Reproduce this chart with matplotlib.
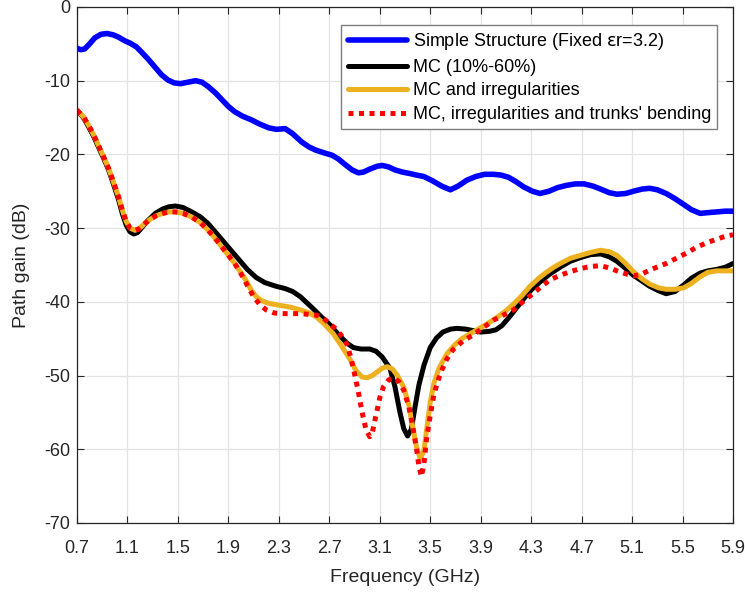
import matplotlib
matplotlib.use("Agg")
import matplotlib.pyplot as plt

# path gain vs frequency for the four trunk models
FREQ_SIMPLE = [0.70, 0.73, 0.76, 0.80, 0.84, 0.89, 0.94, 0.99, 1.03, 1.08, 1.12, 1.17, 1.21, 1.26,
               1.32, 1.37, 1.42, 1.47, 1.52, 1.58, 1.64, 1.69, 1.74, 1.80, 1.85, 1.90, 1.95, 2.01,
               2.08, 2.15, 2.22, 2.28, 2.35, 2.41, 2.48, 2.54, 2.59, 2.66, 2.72, 2.77, 2.82, 2.88,
               2.93, 2.97, 3.02, 3.08, 3.12, 3.17, 3.22, 3.28, 3.34, 3.39, 3.45, 3.52, 3.59, 3.66,
               3.72, 3.79, 3.86, 3.93, 4.00, 4.06, 4.12, 4.18, 4.24, 4.31, 4.37, 4.44, 4.51, 4.58,
               4.65, 4.72, 4.79, 4.85, 4.92, 4.98, 5.05, 5.11, 5.18, 5.24, 5.30, 5.37, 5.44, 5.51,
               5.57, 5.64, 5.70, 5.77, 5.84, 5.90]
GAIN_SIMPLE = [-5.6, -5.8, -5.7, -5.0, -4.2, -3.7, -3.6, -3.8, -4.1, -4.6, -4.9, -5.4, -6.1, -7.0,
               -8.2, -9.2, -9.9, -10.3, -10.4, -10.2, -10.0, -10.2, -10.8, -11.7, -12.6, -13.5, -14.2, -14.8,
               -15.3, -15.9, -16.4, -16.6, -16.5, -17.2, -18.3, -19.0, -19.4, -19.8, -20.1, -20.6, -21.3, -22.1,
               -22.5, -22.4, -22.0, -21.6, -21.5, -21.7, -22.1, -22.4, -22.6, -22.8, -23.0, -23.6, -24.3, -24.8,
               -24.3, -23.5, -23.0, -22.7, -22.7, -22.8, -23.1, -23.7, -24.4, -25.0, -25.3, -25.0, -24.5, -24.2,
               -24.0, -24.0, -24.3, -24.7, -25.2, -25.4, -25.3, -25.0, -24.7, -24.6, -24.8, -25.3, -26.0, -26.8,
               -27.5, -28.0, -27.9, -27.8, -27.7, -27.7]

FREQ_MC = [0.70, 0.75, 0.79, 0.83, 0.87, 0.91, 0.95, 0.99, 1.03, 1.06, 1.09, 1.12, 1.15, 1.18,
           1.21, 1.26, 1.32, 1.38, 1.43, 1.48, 1.54, 1.61, 1.68, 1.74, 1.80, 1.85, 1.90, 1.95,
           1.99, 2.05, 2.12, 2.19, 2.28, 2.35, 2.41, 2.47, 2.52, 2.57, 2.64, 2.71, 2.77, 2.84,
           2.89, 2.95, 3.02, 3.07, 3.12, 3.18, 3.22, 3.26, 3.29, 3.32, 3.35, 3.38, 3.41, 3.45,
           3.50, 3.55, 3.60, 3.66, 3.71, 3.78, 3.84, 3.90, 3.97, 4.02, 4.07, 4.13, 4.19, 4.24,
           4.30, 4.37, 4.45, 4.53, 4.61, 4.69, 4.77, 4.85, 4.92, 4.98, 5.05, 5.11, 5.18, 5.24,
           5.31, 5.37, 5.44, 5.51, 5.57, 5.64, 5.70, 5.77, 5.84, 5.90]
GAIN_MC = [-14.0, -15.0, -16.2, -17.5, -19.0, -20.5, -22.1, -24.1, -26.2, -28.1, -29.6, -30.5, -30.8, -30.6,
           -30.0, -29.0, -28.0, -27.4, -27.1, -27.0, -27.2, -27.8, -28.5, -29.4, -30.6, -31.6, -32.6, -33.6,
           -34.4, -35.6, -36.7, -37.4, -37.9, -38.2, -38.6, -39.3, -40.1, -40.9, -42.1, -43.2, -44.4, -45.6,
           -46.2, -46.4, -46.4, -46.7, -47.5, -49.0, -51.5, -55.0, -57.2, -58.2, -57.3, -54.2, -51.3, -48.6,
           -46.2, -44.9, -44.1, -43.7, -43.6, -43.7, -43.9, -44.1, -44.0, -43.8, -43.2, -42.0, -40.7, -39.6,
           -38.4, -37.3, -36.2, -35.3, -34.5, -34.0, -33.6, -33.5, -33.9, -34.5, -35.5, -36.4, -37.2, -37.9,
           -38.5, -38.9, -38.6, -37.7, -36.8, -36.1, -35.8, -35.6, -35.3, -34.8]

FREQ_IRR = [0.70, 0.75, 0.79, 0.83, 0.87, 0.91, 0.95, 0.99, 1.03, 1.06, 1.09, 1.12, 1.16, 1.19,
            1.23, 1.28, 1.33, 1.38, 1.43, 1.48, 1.54, 1.61, 1.68, 1.74, 1.80, 1.85, 1.90, 1.95,
            1.99, 2.04, 2.08, 2.12, 2.17, 2.22, 2.28, 2.35, 2.41, 2.47, 2.54, 2.60, 2.66, 2.73,
            2.79, 2.86, 2.91, 2.96, 3.00, 3.04, 3.08, 3.12, 3.16, 3.20, 3.24, 3.29, 3.33, 3.36,
            3.39, 3.42, 3.45, 3.47, 3.50, 3.53, 3.57, 3.63, 3.69, 3.75, 3.81, 3.87, 3.95, 4.03,
            4.10, 4.16, 4.23, 4.29, 4.36, 4.42, 4.48, 4.53, 4.61, 4.69, 4.77, 4.85, 4.92, 4.98,
            5.05, 5.11, 5.18, 5.24, 5.31, 5.37, 5.44, 5.51, 5.57, 5.64, 5.70, 5.77, 5.84, 5.90]
GAIN_IRR = [-14.0, -14.9, -16.0, -17.3, -18.8, -20.3, -21.9, -23.8, -25.8, -27.6, -29.1, -30.0, -30.3, -30.1,
            -29.5, -28.8, -28.3, -28.0, -27.8, -27.8, -28.0, -28.5, -29.3, -30.3, -31.5, -32.6, -33.7, -34.8,
            -35.8, -37.1, -38.4, -39.3, -39.9, -40.2, -40.4, -40.6, -40.8, -41.1, -41.5, -42.1, -43.0, -44.3,
            -45.8, -47.7, -49.3, -50.2, -50.3, -50.0, -49.5, -49.0, -48.8, -49.1, -50.0, -51.6, -54.0, -56.9,
            -59.6, -61.3, -60.2, -57.5, -53.6, -51.0, -49.0, -47.1, -45.9, -45.0, -44.4, -43.8, -43.0, -42.1,
            -41.2, -40.3, -39.1, -37.9, -36.8, -36.0, -35.3, -34.8, -34.1, -33.7, -33.3, -33.0, -33.2, -33.7,
            -34.8, -35.9, -36.9, -37.6, -38.1, -38.3, -38.3, -38.1, -37.5, -36.6, -36.0, -35.8, -35.8, -35.8]

FREQ_BEND = [0.70, 0.75, 0.79, 0.83, 0.87, 0.91, 0.95, 0.99, 1.03, 1.06, 1.09, 1.12, 1.16, 1.19,
             1.23, 1.28, 1.33, 1.38, 1.43, 1.48, 1.54, 1.61, 1.68, 1.74, 1.80, 1.85, 1.90, 1.95,
             1.99, 2.02, 2.06, 2.10, 2.15, 2.20, 2.26, 2.31, 2.39, 2.47, 2.54, 2.60, 2.65, 2.70,
             2.76, 2.81, 2.84, 2.87, 2.90, 2.93, 2.96, 2.99, 3.02, 3.04, 3.07, 3.10, 3.13, 3.17,
             3.21, 3.25, 3.29, 3.33, 3.36, 3.39, 3.41, 3.43, 3.45, 3.47, 3.50, 3.53, 3.58, 3.63,
             3.68, 3.76, 3.84, 3.92, 4.00, 4.08, 4.16, 4.24, 4.32, 4.39, 4.45, 4.53, 4.61, 4.69,
             4.77, 4.85, 4.92, 4.98, 5.05, 5.11, 5.18, 5.24, 5.31, 5.37, 5.45, 5.53, 5.61, 5.69,
             5.77, 5.84, 5.90]
GAIN_BEND = [-14.0, -14.9, -16.0, -17.3, -18.8, -20.3, -21.9, -23.8, -25.8, -27.6, -29.1, -30.0, -30.3, -30.1,
             -29.5, -28.8, -28.3, -28.0, -27.8, -27.8, -28.0, -28.5, -29.3, -30.3, -31.5, -32.6, -33.7, -34.8,
             -35.9, -36.8, -38.1, -39.3, -40.4, -41.1, -41.5, -41.6, -41.6, -41.6, -41.7, -41.8, -42.2, -42.9,
             -43.8, -44.9, -45.8, -47.5, -49.8, -52.2, -55.0, -57.3, -58.3, -57.8, -55.4, -53.0, -51.5, -50.6,
             -50.3, -50.8, -52.0, -54.2, -56.8, -59.8, -62.3, -63.7, -62.0, -58.7, -55.4, -52.5, -49.7, -47.8,
             -46.5, -45.3, -44.5, -43.5, -42.5, -41.8, -41.1, -39.9, -38.8, -37.8, -37.0, -36.4, -35.9, -35.5,
             -35.2, -35.1, -35.4, -35.8, -36.2, -36.5, -36.2, -35.7, -35.2, -34.8, -34.1, -33.4, -32.6, -32.0,
             -31.5, -31.1, -30.9]

LABELS = ["Simple Structure (Fixed $\\mathrm{\\epsilon}$r=3.2)", "MC (10%-60%)",
          "MC and irregularities", "MC, irregularities and trunks' bending"]
XTICKS = [0.7, 1.1, 1.5, 1.9, 2.3, 2.7, 3.1, 3.5, 3.9, 4.3, 4.7, 5.1, 5.5, 5.9]
YTICKS = [0, -10, -20, -30, -40, -50, -60, -70]

plt.rcParams["font.family"] = ["Liberation Sans", "DejaVu Sans"]
plt.rcParams["mathtext.fontset"] = "dejavusans"
AX_COLOR = "#262626"

fig = plt.figure(figsize=(7.45, 5.92), dpi=100)
ax = fig.add_axes([0.1034, 0.1166, 0.8805, 0.8716])

ax.plot(FREQ_SIMPLE, GAIN_SIMPLE, color="#0000ff", lw=4.0, solid_joinstyle="round",
        solid_capstyle="round", label=LABELS[0])
ax.plot(FREQ_MC, GAIN_MC, color="black", lw=3.6, solid_joinstyle="round",
        solid_capstyle="round", label=LABELS[1])
ax.plot(FREQ_IRR, GAIN_IRR, color="#edb120", lw=3.6, solid_joinstyle="round",
        solid_capstyle="round", label=LABELS[2])
ax.plot(FREQ_BEND, GAIN_BEND, color="#ff0000", lw=3.6, ls=(0, (1, 1.1)),
        dash_capstyle="butt", label=LABELS[3])

ax.set_xlim(0.7, 5.9)
ax.set_ylim(-70, 0)
ax.set_xticks(XTICKS)
ax.set_xticklabels([f"{t:.1f}" for t in XTICKS])
ax.set_yticks(YTICKS)
ax.set_yticklabels([str(t) for t in YTICKS])
ax.grid(True, color="#e3e3e3", lw=0.9)
ax.set_axisbelow(True)
ax.tick_params(direction="in", length=5, width=0.8, top=True, right=True,
               labelsize=13, colors=AX_COLOR)
ax.tick_params(axis="x", pad=12)
ax.tick_params(axis="y", pad=5)
for sp in ax.spines.values():
    sp.set_color(AX_COLOR)
    sp.set_linewidth(0.9)

ax.set_xlabel("Frequency (GHz)", fontsize=14, color=AX_COLOR, labelpad=9)
ax.set_ylabel("Path gain (dB)", fontsize=14, color=AX_COLOR, labelpad=10)

leg = ax.legend(loc="upper right", bbox_to_anchor=(0.976, 0.965), fontsize=13,
                frameon=True, fancybox=False, framealpha=1, edgecolor="#7f7f7f",
                handlelength=3.3, handletextpad=0.3, borderpad=0.35, labelspacing=0.36,
                borderaxespad=0)
leg.get_frame().set_linewidth(1.0)

fig.savefig("out.png", dpi=100)
